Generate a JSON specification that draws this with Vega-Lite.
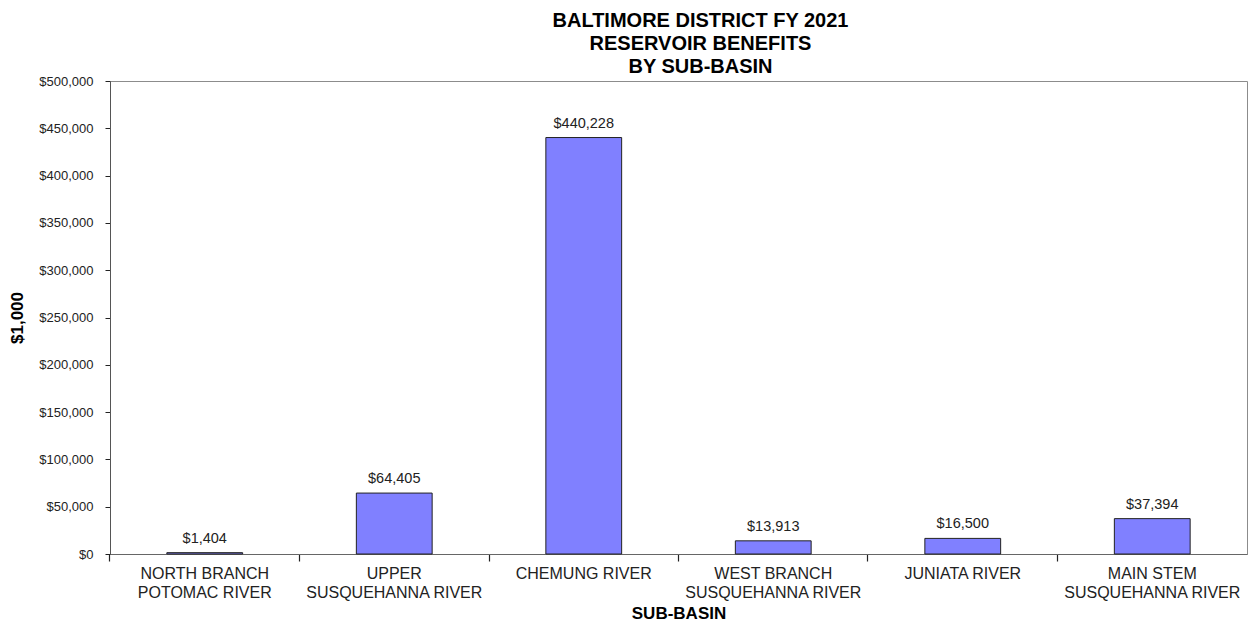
{
  "$schema": "https://vega.github.io/schema/vega-lite/v6.json",
  "autosize": {"type": "none"},
  "padding": {"left": 110, "top": 81, "right": 8, "bottom": 68},
  "width": 1137,
  "height": 473,
  "background": "white",
  "config": {
    "font": "Liberation Sans",
    "view": {"stroke": "#8c8c8c", "strokeWidth": 1}
  },
  "title": {
    "text": ["BALTIMORE DISTRICT FY 2021", "RESERVOIR BENEFITS", "BY SUB-BASIN"],
    "fontSize": 20,
    "fontWeight": "bold",
    "font": "Liberation Sans",
    "color": "#000000",
    "lineHeight": 23,
    "anchor": "middle",
    "dx": 22,
    "offset": -2
  },
  "data": {
    "values": [
      {"basin": "NORTH BRANCH|POTOMAC RIVER", "benefit": 1404},
      {"basin": "UPPER|SUSQUEHANNA RIVER", "benefit": 64405},
      {"basin": "CHEMUNG RIVER", "benefit": 440228},
      {"basin": "WEST  BRANCH|SUSQUEHANNA RIVER", "benefit": 13913},
      {"basin": "JUNIATA RIVER", "benefit": 16500},
      {"basin": "MAIN  STEM|SUSQUEHANNA RIVER", "benefit": 37394}
    ]
  },
  "encoding": {
    "x": {
      "field": "basin",
      "type": "nominal",
      "sort": null,
      "scale": {"paddingInner": 0.6, "paddingOuter": 0.3},
      "axis": {
        "title": "SUB-BASIN",
        "titleFontSize": 17,
        "titleFontWeight": "bold",
        "titleColor": "#000000",
        "titlePadding": 5,
        "labelExpr": "split(datum.label, '|')",
        "labelAngle": 0,
        "labelFontSize": 16,
        "labelLineHeight": 19,
        "labelColor": "#222222",
        "labelPadding": 4,
        "ticks": true,
        "bandPosition": -0.75,
        "tickSize": 7,
        "tickWidth": 1.2,
        "tickColor": "#222222",
        "domainColor": "#666666",
        "labelLimit": 300
      }
    },
    "y": {
      "field": "benefit",
      "type": "quantitative",
      "scale": {"domain": [0, 500000], "nice": false},
      "axis": {
        "title": "$1,000",
        "titleFontSize": 17,
        "titleFontWeight": "bold",
        "titleColor": "#000000",
        "titlePadding": 12,
        "values": [0, 50000, 100000, 150000, 200000, 250000, 300000, 350000, 400000, 450000, 500000],
        "format": "$,.0f",
        "labelFontSize": 13,
        "labelColor": "#222222",
        "labelPadding": 12,
        "tickSize": 5,
        "tickColor": "#222222",
        "domainColor": "#555555",
        "grid": false
      }
    }
  },
  "layer": [
    {
      "mark": {"type": "bar", "color": "#8080ff", "stroke": "#222222", "strokeWidth": 1}
    },
    {
      "mark": {"type": "text", "baseline": "bottom", "dy": -7, "fontSize": 14.5, "color": "#222222"},
      "encoding": {
        "text": {"field": "benefit", "type": "quantitative", "format": "$,.0f"}
      }
    }
  ]
}
